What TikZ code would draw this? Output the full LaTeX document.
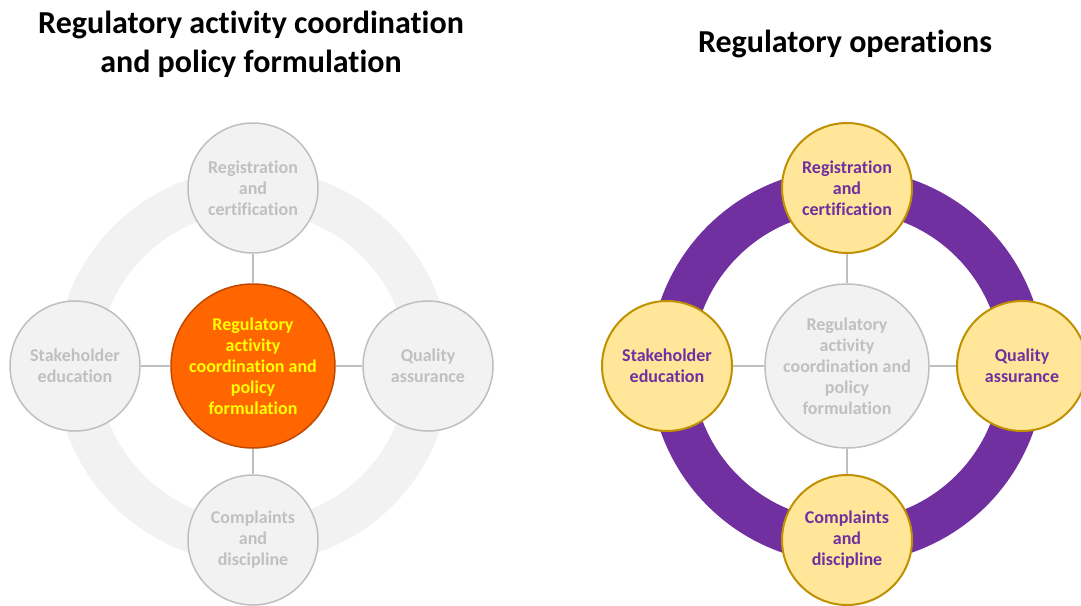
\documentclass[tikz,border=0pt]{standalone}
\usepackage{fontspec}
\setmainfont{Carlito}[RawFeature={-liga;-calt}]
\definecolor{ringgray}{RGB}{242,242,242}
\definecolor{edgegray}{RGB}{191,191,191}
\definecolor{textgray}{RGB}{192,192,192}
\definecolor{hotorange}{RGB}{255,102,0}
\definecolor{darkorange}{RGB}{192,72,0}
\definecolor{brightyellow}{RGB}{255,255,0}
\definecolor{opspurple}{RGB}{112,48,160}
\definecolor{paleyellow}{RGB}{255,230,153}
\definecolor{goldedge}{RGB}{191,144,0}
\tikzset{
  outer/.style={circle, minimum size=130pt, inner sep=0pt, align=center,
    font=\fontsize{18}{21}\selectfont\bfseries},
  hub/.style={outer, minimum size=164pt},
  faded/.style={fill=ringgray, draw=edgegray, line width=1.5pt, text=textgray},
  active/.style={fill=paleyellow, draw=goldedge, line width=2pt, text=opspurple},
  focus/.style={fill=hotorange, draw=darkorange, line width=1.5pt, text=brightyellow},
  spoke/.style={draw=edgegray, line width=1.5pt},
  heading/.style={align=center, font=\fontsize{32}{39}\selectfont\bfseries}
}
\begin{document}
\begin{tikzpicture}[x=1pt, y=-1pt]
  \useasboundingbox (0,0) rectangle (1081,605);

  % Titles
  \node[heading] (ltitle) at (251, 44) {Regulatory activity coordination\\and policy formulation};
  \node[heading] (rtitle) at (845, 44) {Regulatory operations};

  % Left diagram: ring
  \draw[ringgray, line width=43pt] (253, 366) circle (176);

  \node[hub, focus] (lcen) at (253, 366) {Regulatory\\activity\\coordination and\\policy\\formulation};
  \node[outer, faded] (lreg) at (253, 188) {Registration\\and\\certification};
  \node[outer, faded] (lqual) at (428, 366) {Quality\\assurance};
  \node[outer, faded] (lcomp) at (253, 540) {Complaints\\and\\discipline};
  \node[outer, faded] (lstake) at (75, 366) {Stakeholder\\education};

  \draw[spoke] (lcen) -- (lreg);
  \draw[spoke] (lcen) -- (lqual);
  \draw[spoke] (lcen) -- (lcomp);
  \draw[spoke] (lcen) -- (lstake);

  % Right diagram: ring
  \draw[opspurple, line width=43pt] (847, 366) circle (176);

  \node[hub, faded] (rcen) at (847, 366) {Regulatory\\activity\\coordination and\\policy\\formulation};
  \node[outer, active] (rreg) at (847, 188) {Registration\\and\\certification};
  \node[outer, active] (rqual) at (1022, 366) {Quality\\assurance};
  \node[outer, active] (rcomp) at (847, 540) {Complaints\\and\\discipline};
  \node[outer, active] (rstake) at (667, 366) {Stakeholder\\education};

  \draw[spoke] (rcen) -- (rreg);
  \draw[spoke] (rcen) -- (rqual);
  \draw[spoke] (rcen) -- (rcomp);
  \draw[spoke] (rcen) -- (rstake);
\end{tikzpicture}
\end{document}
